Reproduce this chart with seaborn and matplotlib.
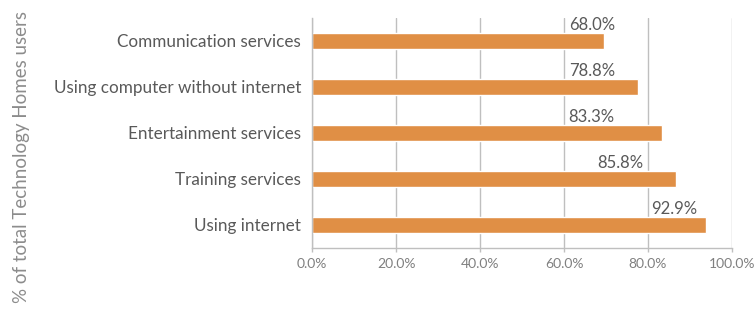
import matplotlib.pyplot as plt
import pandas as pd
import seaborn as sns
from matplotlib.ticker import PercentFormatter

categories = [
    "Communication services",
    "Using computer without internet",
    "Entertainment services",
    "Training services",
    "Using internet",
]
bar_values = [69.5, 77.6, 83.3, 86.6, 93.8]
value_labels = ["68.0%", "78.8%", "83.3%", "85.8%", "92.9%"]
label_centers = [66.6, 66.6, 66.6, 73.3, 86.2]
x_ticks = [0, 20, 40, 60, 80, 100]

BAR_COLOR = "#E08F45"
GRID_COLOR = "#BFBFBF"


def main() -> None:
    sns.set_theme(style="white")
    plt.rcParams["font.family"] = ["Lato", "DejaVu Sans"]

    data = pd.DataFrame({"category": categories, "value": bar_values})

    fig = plt.figure(figsize=(7.55, 3.10), dpi=100)
    ax = fig.add_axes([0.4135, 0.2, 0.556, 0.742])

    sns.barplot(data=data, x="value", y="category", color=BAR_COLOR,
                width=0.35, saturation=1, ax=ax)

    for i, (text, xpos) in enumerate(zip(value_labels, label_centers)):
        ax.text(xpos, i - 0.18, text, ha="center", va="bottom",
                fontsize=12, color="#595959")

    ax.set_xlim(0, 100)
    ax.set_ylim(4.5, -0.5)
    ax.set_xticks(x_ticks)
    ax.xaxis.set_major_formatter(PercentFormatter(decimals=1))
    ax.grid(axis="x", color=GRID_COLOR, linewidth=1)
    ax.set_axisbelow(True)

    for side in ["top", "right"]:
        ax.spines[side].set_visible(False)
    for side in ["left", "bottom"]:
        ax.spines[side].set_color(GRID_COLOR)
        ax.spines[side].set_linewidth(1)

    ax.tick_params(axis="x", colors="#808080", labelsize=10, length=3,
                   width=1, direction="out", bottom=True, pad=4)
    ax.tick_params(axis="x", color=GRID_COLOR)
    ax.tick_params(axis="y", colors="#595959", labelsize=12.3, length=0, pad=8)

    ax.set_xlabel("")
    ax.set_ylabel("")
    fig.text(0.029, 0.495, "% of total Technology Homes users", rotation=90,
             ha="center", va="center", fontsize=13.5, color="#8C8C8C")

    fig.savefig("out.png", dpi=100)
    plt.close(fig)


if __name__ == "__main__":
    main()
